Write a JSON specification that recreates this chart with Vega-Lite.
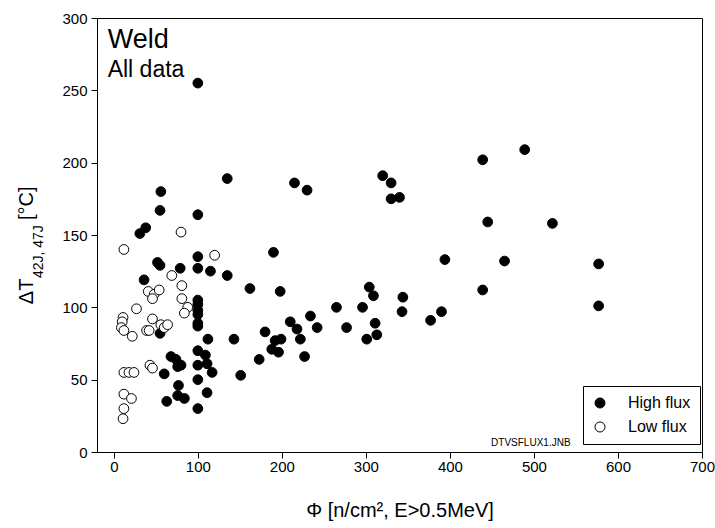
{
  "$schema": "https://vega.github.io/schema/vega-lite/v6.json",
  "autosize": {"type": "none"},
  "padding": {"left": 97, "top": 18, "right": 13, "bottom": 76},
  "width": 605,
  "height": 434,
  "background": "white",
  "config": {
    "font": "Liberation Sans",
    "view": {"stroke": "black", "strokeWidth": 1},
    "axis": {"grid": false, "domainColor": "black", "tickColor": "black", "labelColor": "black", "titleColor": "black", "labelFont": "Liberation Sans", "titleFont": "Liberation Sans", "labelFontSize": 15, "titleFontSize": 20, "titleFontWeight": "normal", "tickSize": 6, "domainWidth": 1, "tickWidth": 1, "labelFlush": false}
  },
  "datasets": {
    "pts": [
      {"phi": 100, "dT": 255, "flux": "High flux"},
      {"phi": 135, "dT": 189, "flux": "High flux"},
      {"phi": 56, "dT": 180, "flux": "High flux"},
      {"phi": 55, "dT": 167, "flux": "High flux"},
      {"phi": 100, "dT": 164, "flux": "High flux"},
      {"phi": 38, "dT": 155, "flux": "High flux"},
      {"phi": 31, "dT": 151, "flux": "High flux"},
      {"phi": 190, "dT": 138, "flux": "High flux"},
      {"phi": 100, "dT": 135, "flux": "High flux"},
      {"phi": 52, "dT": 131, "flux": "High flux"},
      {"phi": 55, "dT": 129, "flux": "High flux"},
      {"phi": 79, "dT": 127, "flux": "High flux"},
      {"phi": 100, "dT": 127, "flux": "High flux"},
      {"phi": 115, "dT": 125, "flux": "High flux"},
      {"phi": 135, "dT": 122, "flux": "High flux"},
      {"phi": 36, "dT": 119, "flux": "High flux"},
      {"phi": 162, "dT": 113, "flux": "High flux"},
      {"phi": 198, "dT": 111, "flux": "High flux"},
      {"phi": 100, "dT": 105, "flux": "High flux"},
      {"phi": 100, "dT": 102, "flux": "High flux"},
      {"phi": 100, "dT": 98, "flux": "High flux"},
      {"phi": 100, "dT": 95, "flux": "High flux"},
      {"phi": 100, "dT": 89, "flux": "High flux"},
      {"phi": 100, "dT": 87, "flux": "High flux"},
      {"phi": 55, "dT": 82, "flux": "High flux"},
      {"phi": 112, "dT": 78, "flux": "High flux"},
      {"phi": 143, "dT": 78, "flux": "High flux"},
      {"phi": 180, "dT": 83, "flux": "High flux"},
      {"phi": 192, "dT": 77, "flux": "High flux"},
      {"phi": 199, "dT": 78, "flux": "High flux"},
      {"phi": 188, "dT": 71, "flux": "High flux"},
      {"phi": 196, "dT": 69, "flux": "High flux"},
      {"phi": 173, "dT": 64, "flux": "High flux"},
      {"phi": 210, "dT": 90, "flux": "High flux"},
      {"phi": 218, "dT": 85, "flux": "High flux"},
      {"phi": 222, "dT": 78, "flux": "High flux"},
      {"phi": 234, "dT": 94, "flux": "High flux"},
      {"phi": 242, "dT": 86, "flux": "High flux"},
      {"phi": 227, "dT": 66, "flux": "High flux"},
      {"phi": 151, "dT": 53, "flux": "High flux"},
      {"phi": 265, "dT": 100, "flux": "High flux"},
      {"phi": 277, "dT": 86, "flux": "High flux"},
      {"phi": 296, "dT": 100, "flux": "High flux"},
      {"phi": 301, "dT": 78, "flux": "High flux"},
      {"phi": 304, "dT": 114, "flux": "High flux"},
      {"phi": 309, "dT": 108, "flux": "High flux"},
      {"phi": 311, "dT": 89, "flux": "High flux"},
      {"phi": 313, "dT": 81, "flux": "High flux"},
      {"phi": 344, "dT": 107, "flux": "High flux"},
      {"phi": 343, "dT": 97, "flux": "High flux"},
      {"phi": 377, "dT": 91, "flux": "High flux"},
      {"phi": 390, "dT": 97, "flux": "High flux"},
      {"phi": 394, "dT": 133, "flux": "High flux"},
      {"phi": 439, "dT": 112, "flux": "High flux"},
      {"phi": 439, "dT": 202, "flux": "High flux"},
      {"phi": 445, "dT": 159, "flux": "High flux"},
      {"phi": 465, "dT": 132, "flux": "High flux"},
      {"phi": 489, "dT": 209, "flux": "High flux"},
      {"phi": 522, "dT": 158, "flux": "High flux"},
      {"phi": 577, "dT": 130, "flux": "High flux"},
      {"phi": 577, "dT": 101, "flux": "High flux"},
      {"phi": 320, "dT": 191, "flux": "High flux"},
      {"phi": 330, "dT": 186, "flux": "High flux"},
      {"phi": 330, "dT": 175, "flux": "High flux"},
      {"phi": 340, "dT": 176, "flux": "High flux"},
      {"phi": 215, "dT": 186, "flux": "High flux"},
      {"phi": 230, "dT": 181, "flux": "High flux"},
      {"phi": 68, "dT": 66, "flux": "High flux"},
      {"phi": 74, "dT": 64, "flux": "High flux"},
      {"phi": 76, "dT": 59, "flux": "High flux"},
      {"phi": 80, "dT": 60, "flux": "High flux"},
      {"phi": 100, "dT": 70, "flux": "High flux"},
      {"phi": 109, "dT": 67, "flux": "High flux"},
      {"phi": 100, "dT": 60, "flux": "High flux"},
      {"phi": 111, "dT": 61, "flux": "High flux"},
      {"phi": 117, "dT": 55, "flux": "High flux"},
      {"phi": 60, "dT": 54, "flux": "High flux"},
      {"phi": 100, "dT": 50, "flux": "High flux"},
      {"phi": 77, "dT": 46, "flux": "High flux"},
      {"phi": 111, "dT": 41, "flux": "High flux"},
      {"phi": 76, "dT": 39, "flux": "High flux"},
      {"phi": 84, "dT": 37, "flux": "High flux"},
      {"phi": 63, "dT": 35, "flux": "High flux"},
      {"phi": 100, "dT": 30, "flux": "High flux"},
      {"phi": 80, "dT": 152, "flux": "Low flux"},
      {"phi": 12, "dT": 140, "flux": "Low flux"},
      {"phi": 120, "dT": 136, "flux": "Low flux"},
      {"phi": 69, "dT": 122, "flux": "Low flux"},
      {"phi": 81, "dT": 115, "flux": "Low flux"},
      {"phi": 41, "dT": 111, "flux": "Low flux"},
      {"phi": 48, "dT": 109, "flux": "Low flux"},
      {"phi": 54, "dT": 112, "flux": "Low flux"},
      {"phi": 46, "dT": 106, "flux": "Low flux"},
      {"phi": 81, "dT": 106, "flux": "Low flux"},
      {"phi": 88, "dT": 100, "flux": "Low flux"},
      {"phi": 27, "dT": 99, "flux": "Low flux"},
      {"phi": 84, "dT": 96, "flux": "Low flux"},
      {"phi": 11, "dT": 93, "flux": "Low flux"},
      {"phi": 10, "dT": 90, "flux": "Low flux"},
      {"phi": 9, "dT": 86, "flux": "Low flux"},
      {"phi": 12, "dT": 84, "flux": "Low flux"},
      {"phi": 22, "dT": 80, "flux": "Low flux"},
      {"phi": 46, "dT": 92, "flux": "Low flux"},
      {"phi": 39, "dT": 84, "flux": "Low flux"},
      {"phi": 42, "dT": 84, "flux": "Low flux"},
      {"phi": 56, "dT": 88, "flux": "Low flux"},
      {"phi": 60, "dT": 86, "flux": "Low flux"},
      {"phi": 64, "dT": 88, "flux": "Low flux"},
      {"phi": 43, "dT": 60, "flux": "Low flux"},
      {"phi": 46, "dT": 58, "flux": "Low flux"},
      {"phi": 12, "dT": 55, "flux": "Low flux"},
      {"phi": 18, "dT": 55, "flux": "Low flux"},
      {"phi": 24, "dT": 55, "flux": "Low flux"},
      {"phi": 12, "dT": 40, "flux": "Low flux"},
      {"phi": 21, "dT": 37, "flux": "Low flux"},
      {"phi": 12, "dT": 30, "flux": "Low flux"},
      {"phi": 11, "dT": 23, "flux": "Low flux"}
    ],
    "labels": [
      {"lx": -7.3, "ly": 279, "txt": "Weld", "size": 27},
      {"lx": -7.3, "ly": 259.4, "txt": "All data", "size": 23},
      {"lx": 449, "ly": 4, "txt": "DTVSFLUX1.JNB", "size": 10}
    ],
    "ytitle": [
      {"lx": -96, "ly": 111, "txt": "ΔT", "size": 20},
      {"lx": -84, "ly": 138.5, "txt": "42J, 47J", "size": 14},
      {"lx": -96, "ly": 172, "txt": "[°C]", "size": 20}
    ]
  },
  "layer": [
    {
      "data": {"name": "pts"},
      "mark": {"type": "point", "shape": "circle", "size": 95, "stroke": "black", "strokeWidth": 1, "opacity": 1, "filled": false},
      "encoding": {
        "x": {"field": "phi", "type": "quantitative", "scale": {"domain": [-20, 700], "nice": false, "zero": false},
          "axis": {"values": [0, 100, 200, 300, 400, 500, 600, 700], "title": "Φ [n/cm², E>0.5MeV]", "titlePadding": 26, "labelPadding": 1}},
        "y": {"field": "dT", "type": "quantitative", "scale": {"domain": [0, 300], "nice": false},
          "axis": {"values": [0, 50, 100, 150, 200, 250, 300], "title": null, "labelPadding": 4}},
        "fill": {"field": "flux", "type": "nominal", "scale": {"domain": ["High flux", "Low flux"], "range": ["black", "white"]},
          "legend": {"title": null, "orient": "none", "legendX": 486, "legendY": 368, "strokeColor": "black", "fillColor": "white", "padding": 9, "labelFontSize": 16, "labelColor": "black", "labelOffset": 20, "symbolSize": 100, "symbolStrokeColor": "black", "symbolStrokeWidth": 1, "rowPadding": 8, "symbolType": "circle"}},
        "order": {"field": "flux", "sort": "ascending"}
      }
    },
    {
      "data": {"name": "labels"},
      "mark": {"type": "text", "baseline": "alphabetic", "align": "left", "color": "black"},
      "encoding": {
        "x": {"field": "lx", "type": "quantitative"},
        "y": {"field": "ly", "type": "quantitative"},
        "text": {"field": "txt"},
        "size": {"field": "size", "type": "quantitative", "scale": null}
      }
    },
    {
      "data": {"name": "ytitle"},
      "mark": {"type": "text", "angle": 270, "baseline": "alphabetic", "align": "center", "color": "black"},
      "encoding": {
        "x": {"field": "lx", "type": "quantitative"},
        "y": {"field": "ly", "type": "quantitative"},
        "text": {"field": "txt"},
        "size": {"field": "size", "type": "quantitative", "scale": null}
      }
    }
  ]
}
